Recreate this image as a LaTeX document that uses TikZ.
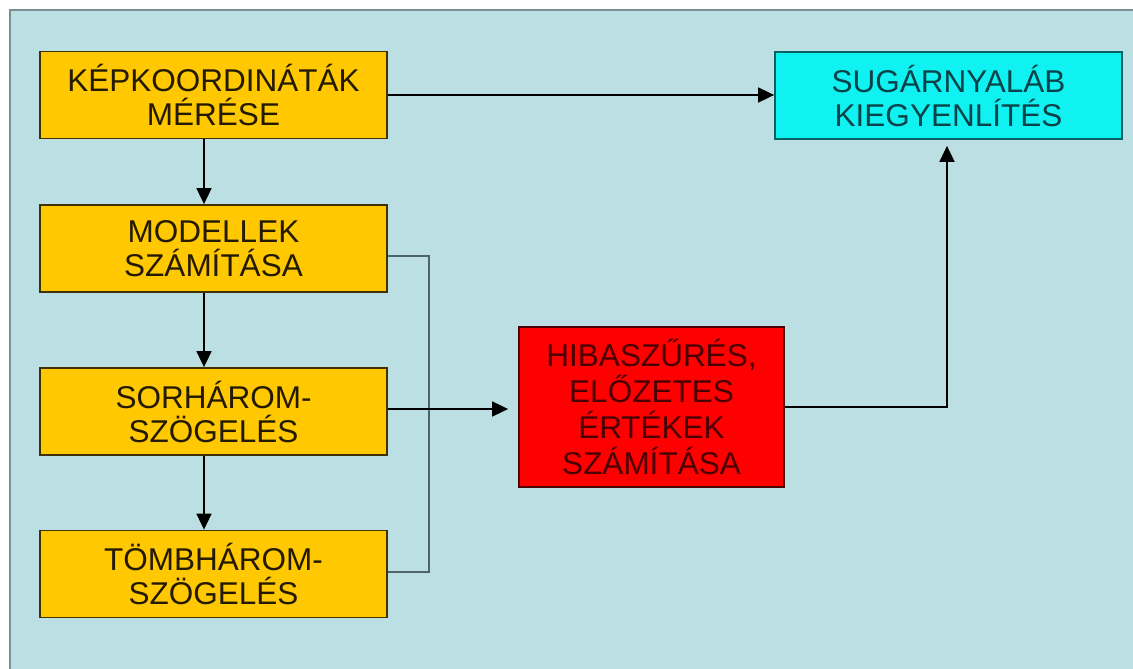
\documentclass[tikz,border=0pt]{standalone}
\usepackage{fontspec}
\setmainfont{Liberation Sans}
\usetikzlibrary{arrows.meta,calc}
\definecolor{panelbg}{HTML}{BCDFE3}
\definecolor{panelborder}{HTML}{7A9094}
\definecolor{boxyellow}{HTML}{FFC800}
\definecolor{boxred}{HTML}{FF0000}
\definecolor{boxcyan}{HTML}{10F2F2}
\definecolor{txtyellow}{HTML}{231A00}
\definecolor{txtred}{HTML}{4A0000}
\definecolor{txtcyan}{HTML}{08434A}
\definecolor{bracketcol}{HTML}{4C6468}
\tikzset{
  x=1pt,y=-1pt,
  boxbase/.style={rectangle,draw,line width=1.8pt,align=center,inner sep=0pt,
    font=\fontsize{31.5}{34}\selectfont},
  ybox/.style={boxbase,fill=boxyellow,draw=black!75!boxyellow,text=txtyellow,
    minimum width=347pt,minimum height=87pt},
  rbox/.style={boxbase,fill=boxred,draw=black!70!boxred,text=txtred,
    minimum width=265pt,minimum height=160pt,font=\fontsize{31.5}{35.7}\selectfont},
  cbox/.style={boxbase,fill=boxcyan,draw=black!60!boxcyan,text=txtcyan,
    minimum width=347pt,minimum height=87pt},
  arr/.style={draw=black,line width=1.8pt,-{Triangle[length=16pt,width=15pt]}},
  brk/.style={draw=bracketcol,line width=2pt},
}
\begin{document}
\begin{tikzpicture}
\useasboundingbox (0,0) rectangle (1133,669);
\fill[white] (0,0) rectangle (1133,669);
\fill[panelbg] (10,10) rectangle (1140,680);
\draw[panelborder,line width=2pt] (10,680) -- (10,10) -- (1140,10);

\node[ybox] (b1) at (213.5,95) {KÉPKOORDINÁTÁK\\MÉRÉSE};
\node[ybox] (b2) at (213.5,248.5) {MODELLEK\\SZÁMÍTÁSA};
\node[ybox] (b3) at (213.5,411.5) {SORHÁROM-\\SZÖGELÉS};
\node[ybox] (b4) at (213.5,574) {TÖMBHÁROM-\\SZÖGELÉS};
\node[rbox] (h) at (651.5,407) {HIBASZŰRÉS,\\ELŐZETES\\ÉRTÉKEK\\SZÁMÍTÁSA};
\node[cbox] (s) at (948.5,95.5) {SUGÁRNYALÁB\\KIEGYENLÍTÉS};

\coordinate (ax) at (204,0);
\coordinate (bx) at (429,0);
\coordinate (cx) at (947,0);
\coordinate (y2) at (0,256);
\coordinate (y3) at (0,409);
\coordinate (y4) at (0,572);

% bracket
\draw[brk] (b2.east |- y2) -| (bx |- y4) -- (b4.east |- y4);

% arrows
\draw[arr] (b1.east) -- (s.west |- b1.east);
\draw[arr] (b1.south -| ax) -- (b2.north -| ax);
\draw[arr] (b2.south -| ax) -- (b3.north -| ax);
\draw[arr] (b3.south -| ax) -- (b4.north -| ax);
\draw[arr] (b3.east |- y3) -- ($(h.west |- y3)+(-10,0)$);
\draw[arr] (h.east) -| ($(s.south -| cx)+(0,6)$);
\end{tikzpicture}
\end{document}
